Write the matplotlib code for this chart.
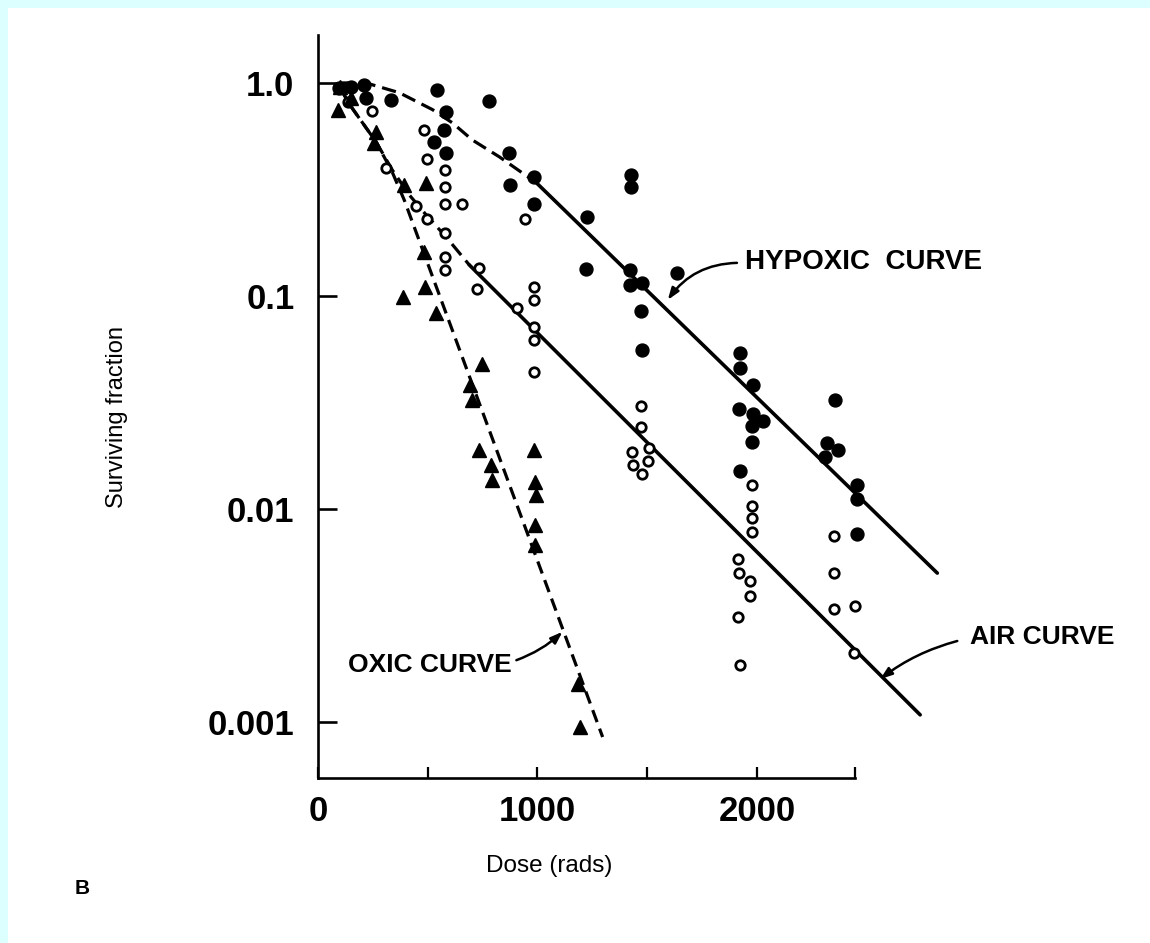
import matplotlib
matplotlib.use('Agg')
import matplotlib.pyplot as plt
from matplotlib import font_manager as fm
from matplotlib.patches import Rectangle
from matplotlib.ticker import FixedLocator, NullFormatter, NullLocator

# ---------------- data ----------------
hyp_dose = [96, 150, 210, 219, 333, 543, 584, 575, 530, 584, 781, 872, 986, 877, 986,
            1224, 1219, 1425, 1425, 1420, 1420, 1475, 1635, 1470, 1475,
            1922, 1922, 1982, 1918, 1982, 2027, 1977, 1977, 1922,
            2356, 2320, 2370, 2311, 2457, 2457, 2457]
hyp_sf = [0.95, 0.96, 0.98, 0.85, 0.83, 0.93, 0.73, 0.60, 0.53, 0.47, 0.82, 0.47, 0.36, 0.33, 0.27,
          0.235, 0.134, 0.37, 0.325, 0.132, 0.113, 0.115, 0.128, 0.085, 0.056,
          0.054, 0.046, 0.038, 0.0295, 0.028, 0.0259, 0.0245, 0.0206, 0.0151,
          0.0325, 0.0204, 0.0189, 0.0175, 0.013, 0.0111, 0.0076]

air_dose = [137, 247, 484, 498, 580, 580, 580, 658, 310, 447, 498, 580, 580, 580, 735, 726,
            941, 986, 986, 909, 986, 986, 986,
            1470, 1470, 1507, 1429, 1434, 1502, 1475,
            1977, 1977, 1977, 1977, 1913, 1918, 1968, 1968, 1913, 1922,
            2352, 2352, 2352, 2447, 2443]
air_sf = [0.81, 0.74, 0.60, 0.44, 0.39, 0.325, 0.27, 0.27, 0.40, 0.265, 0.23, 0.198, 0.152, 0.132, 0.135, 0.108,
          0.23, 0.11, 0.096, 0.088, 0.0715, 0.062, 0.044,
          0.0305, 0.0243, 0.0193, 0.0185, 0.0161, 0.0168, 0.0146,
          0.013, 0.0103, 0.0091, 0.0078, 0.0058, 0.005, 0.0046, 0.0039, 0.0031, 0.00185,
          0.0075, 0.005, 0.0034, 0.0035, 0.0021]

oxic_dose = [100, 90, 150, 265, 256, 393, 493, 484, 489, 388, 539,
             749, 694, 703, 735, 790, 794,
             986, 991, 995, 991, 991, 1183, 1192]
oxic_sf = [0.96, 0.75, 0.85, 0.59, 0.52, 0.33, 0.34, 0.16, 0.11, 0.099, 0.083,
           0.048, 0.038, 0.0325, 0.019, 0.0161, 0.0137,
           0.0189, 0.0134, 0.0116, 0.0084, 0.0068, 0.0015, 0.00095]

# fitted curves as drawn in the figure
hyp_dash_dose = [100, 219, 370, 521, 612, 703, 826, 995]
hyp_dash_sf = [1.0, 1.0, 0.90, 0.75, 0.65, 0.54, 0.45, 0.34]
hyp_line_dose = [995, 2822]
hyp_line_sf = [0.34, 0.005]

air_dash_dose = [100, 155, 265, 338, 416, 493, 584, 689]
air_dash_sf = [0.947, 0.763, 0.528, 0.391, 0.298, 0.240, 0.189, 0.140]
air_line_dose = [689, 2744]
air_line_sf = [0.140, 0.00108]

oxic_curve_dose = [100, 155, 265, 338, 393, 1297]
oxic_curve_sf = [0.947, 0.763, 0.528, 0.382, 0.282, 0.00085]

y_ticks = [1.0, 0.1, 0.01, 0.001]
y_labels = ['1.0', '0.1', '0.01', '0.001']
x_ticks = [0, 1000, 2000]
x_labels = ['0', '1000', '2000']
x_minor = [500, 1500, 2447]

# ---------------- fonts ----------------
names = {f.name for f in fm.fontManager.ttflist}
NARROW = 'Liberation Sans Narrow' if 'Liberation Sans Narrow' in names else 'Liberation Sans'
SANS = 'Liberation Sans'
plt.rcParams['font.family'] = [SANS, 'DejaVu Sans']

# ---------------- figure ----------------
W, H = 1150, 943
fig = plt.figure(figsize=(W / 100, H / 100), dpi=100)
fig.patch.set_facecolor('#dcffff')
fig.add_artist(Rectangle((8 / W, 0), 1, (H - 8) / H, transform=fig.transFigure,
                         facecolor='white', edgecolor='none', zorder=-10))

ax = fig.add_axes([318 / W, (H - 778) / H, (855 - 318) / W, (778 - 35) / H])
ax.set_facecolor('none')
ax.set_yscale('log')
ax.set_xlim(0, 2447)
ax.set_ylim(10 ** -3.263, 10 ** 0.225)

for s in ['top', 'right']:
    ax.spines[s].set_visible(False)
for s in ['left', 'bottom']:
    ax.spines[s].set_linewidth(1.9)

k = 'black'
# curves
ax.plot(hyp_dash_dose, hyp_dash_sf, color=k, lw=2.3, dashes=(4.5, 2.2), clip_on=False)
ax.plot(hyp_line_dose, hyp_line_sf, color=k, lw=2.6, solid_capstyle='round', clip_on=False)
ax.plot(air_dash_dose, air_dash_sf, color=k, lw=2.3, dashes=(4.5, 2.2), clip_on=False)
ax.plot(air_line_dose, air_line_sf, color=k, lw=2.6, solid_capstyle='round', clip_on=False)
ax.plot(oxic_curve_dose, oxic_curve_sf, color=k, lw=2.3, dashes=(4.0, 2.2), clip_on=False)

# points
ax.plot(hyp_dose, hyp_sf, 'o', ms=9.3, color=k, mec=k, ls='none', clip_on=False)
ax.plot(air_dose, air_sf, 'o', ms=6.8, mfc='white', mec=k, mew=2.0, ls='none', clip_on=False)
ax.plot(oxic_dose, oxic_sf, '^', ms=10, color=k, mec=k, ls='none', clip_on=False)

# ticks
ax.yaxis.set_major_locator(FixedLocator(y_ticks))
ax.set_yticklabels(y_labels)
ax.yaxis.set_minor_locator(NullLocator())
ax.xaxis.set_major_locator(FixedLocator(x_ticks))
ax.set_xticklabels(x_labels)
ax.xaxis.set_minor_locator(FixedLocator(x_minor))
ax.xaxis.set_minor_formatter(NullFormatter())
ax.tick_params(axis='y', which='major', direction='in', length=14, width=1.9, pad=17)
ax.tick_params(axis='x', which='major', direction='in', length=8, width=1.6, pad=12)
ax.tick_params(axis='x', which='minor', direction='in', length=8, width=1.6)
for lab in ax.get_yticklabels() + ax.get_xticklabels():
    lab.set_fontfamily(NARROW)
    lab.set_fontweight('bold')
    lab.set_fontsize(25)

# axis labels
fig.text(117 / W, 1 - 417 / H, 'Surviving fraction', rotation=90, ha='center', va='center',
         fontsize=17, family=SANS)
fig.text(549 / W, 1 - 866 / H, 'Dose (rads)', ha='center', va='center', fontsize=17.5, family=SANS)
fig.text(82 / W, 1 - 888 / H, 'B', ha='center', va='center', fontsize=15, fontweight='bold', family=SANS)

# annotations
tkw = dict(fontweight='bold', family=SANS, va='center')
ax.text(1945, 0.1445, 'HYPOXIC  CURVE', fontsize=20, ha='left', **tkw)
ax.text(2973, 0.00251, 'AIR CURVE', fontsize=19, ha='left', **tkw)
ax.text(881, 0.00185, 'OXIC CURVE', fontsize=19, ha='right', **tkw)
akw = dict(arrowstyle='-|>,head_length=0.7,head_width=0.25', color=k, lw=1.8, shrinkA=0, shrinkB=0)
ax.annotate('', xy=(1594, 0.0958), xytext=(1909, 0.143), annotation_clip=False,
            arrowprops=dict(connectionstyle='arc3,rad=0.25', **akw))
ax.annotate('', xy=(2562, 0.00159), xytext=(2913, 0.0024), annotation_clip=False,
            arrowprops=dict(connectionstyle='arc3,rad=0.1', **akw))
ax.annotate('', xy=(1114, 0.00265), xytext=(904, 0.00195), annotation_clip=False,
            arrowprops=dict(connectionstyle='arc3,rad=0.1', **akw))

fig.savefig('out.png', dpi=100, facecolor=fig.get_facecolor())
